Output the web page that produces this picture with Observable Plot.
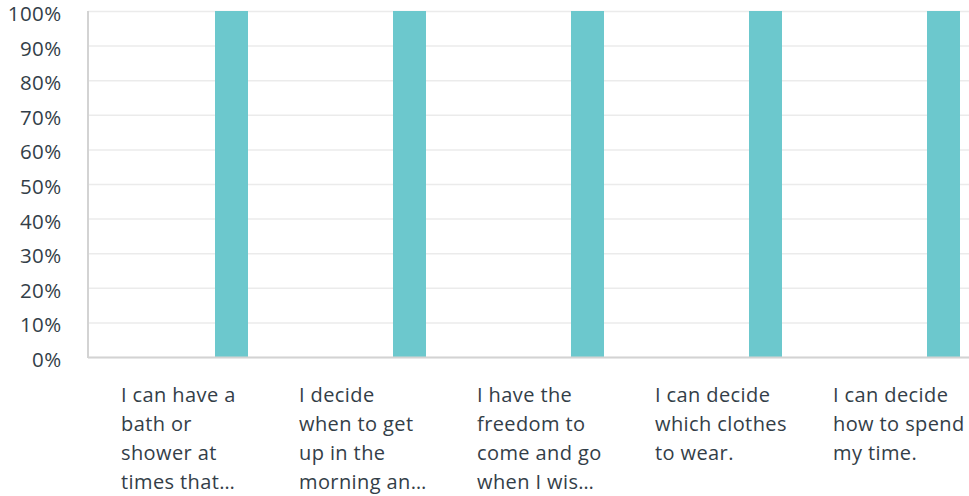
<!DOCTYPE html>
<html>
<head>
<meta charset="utf-8">
<script src="https://cdn.jsdelivr.net/npm/d3@7"></script>
<script src="https://cdn.jsdelivr.net/npm/@observablehq/plot@0.6"></script>
<style>
  html, body { margin: 0; padding: 0; background: #fff; }
  svg text { letter-spacing: 0.4px; }
</style>
</head>
<body>
<div id="chart"></div>
<script>
const categories = [
  "I can have a bath or shower at times that…",
  "I decide when to get up in the morning an…",
  "I have the freedom to come and go when I wis…",
  "I can decide which clothes to wear.",
  "I can decide how to spend my time."
];
const tickLabels = [
  "I can have a\nbath or\nshower at\ntimes that…",
  "I decide\nwhen to get\nup in the\nmorning an…",
  "I have the\nfreedom to\ncome and go\nwhen I wis…",
  "I can decide\nwhich clothes\nto wear.",
  "I can decide\nhow to spend\nmy time."
];
const values = [100, 100, 100, 100, 100];
const yTicks = [0, 10, 20, 30, 40, 50, 60, 70, 80, 90, 100];

const data = categories.map((c, i) => ({category: c, value: values[i]}));

const textColor = "#333e48";
const font = "'Open Sans', sans-serif";

const chart = Plot.plot({
  width: 969,
  height: 496,
  marginLeft: 88,
  marginRight: 0,
  marginTop: 11,
  marginBottom: 139,
  style: {fontFamily: font, color: textColor, background: "#fff"},
  x: {domain: categories, paddingInner: 0.815, paddingOuter: 0.379, align: 0.933},
  y: {domain: [0, 100]},
  marks: [
    Plot.gridY(yTicks, {stroke: "#ebebeb", strokeOpacity: 1, strokeWidth: 1.5}),
    Plot.barY(data, {x: "category", y: "value", fill: "#6cc8cd"}),
    Plot.ruleY([0], {stroke: "#d3d3d3", strokeWidth: 2}),
    (index, scales, values, dims) => {
      const g = d3.create("svg:line")
        .attr("x1", dims.marginLeft).attr("x2", dims.marginLeft)
        .attr("y1", scales.y(100)).attr("y2", scales.y(0) + 1)
        .attr("stroke", "#d3d3d3").attr("stroke-width", 2);
      return g.node();
    },
    Plot.axisY(yTicks, {
      tickSize: 0, tickPadding: 27, fontSize: 20.5, dy: 3,
      tickFormat: d => d + "%", label: null, fill: textColor
    }),
    Plot.axisX({
      tickSize: 0, tickPadding: 24, fontSize: 20, lineHeight: 29 / 20,
      textAnchor: "start", dx: -111, label: null, fill: textColor,
      tickFormat: d => tickLabels[categories.indexOf(d)]
    })
  ]
});
document.getElementById("chart").appendChild(chart);
</script>
</body>
</html>
